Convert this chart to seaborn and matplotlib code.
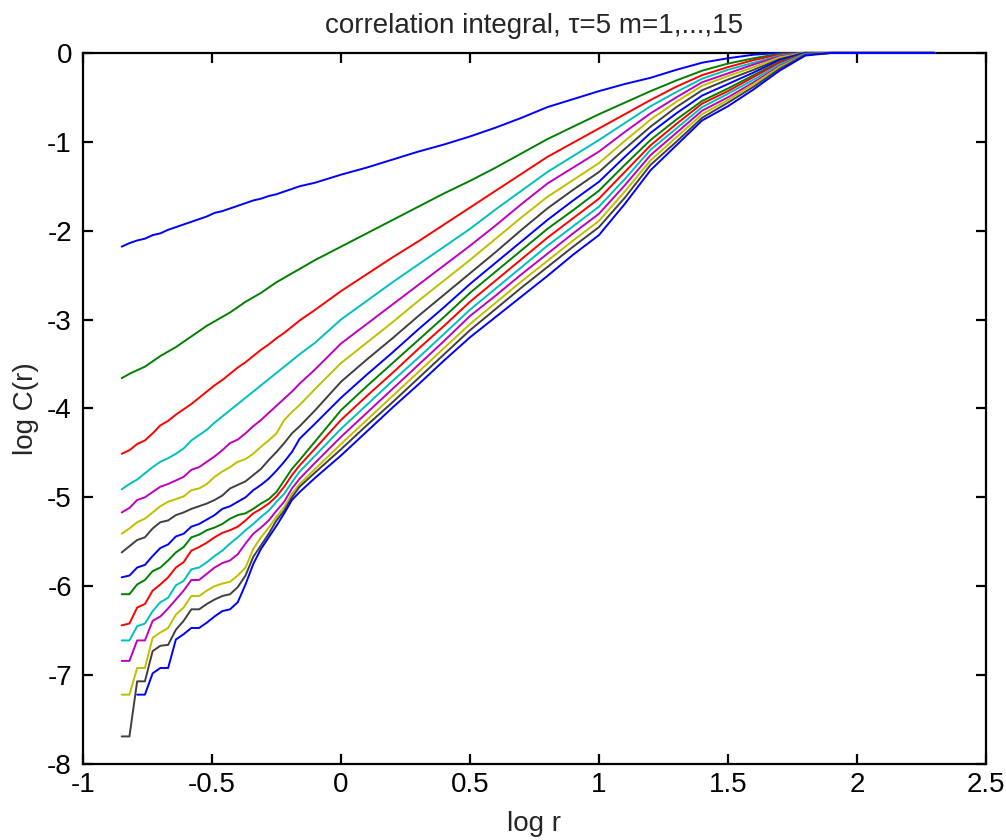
import numpy as np
import pandas as pd
import matplotlib
matplotlib.use("Agg")
import matplotlib.pyplot as plt
import seaborn as sns

nan = np.nan

# x grid (log r)
log_r = [-0.85, -0.82, -0.79, -0.76, -0.73, -0.70, -0.67, -0.64, -0.61, -0.58, -0.55, -0.52,
         -0.49, -0.46, -0.43, -0.40, -0.37, -0.34, -0.31, -0.28, -0.25, -0.22, -0.19, -0.16,
         -0.10, 0.0, 0.1, 0.2, 0.3, 0.4, 0.5, 0.6, 0.7, 0.8, 0.9, 1.0, 1.1, 1.2, 1.3, 1.4,
         1.5, 1.6, 1.7, 1.8, 1.9, 2.3]

# log C(r) for embedding dimension m = 1..15
m1 = [-2.18, -2.14, -2.11, -2.09, -2.05, -2.03, -1.99, -1.96, -1.93, -1.90, -1.87, -1.84,
      -1.80, -1.78, -1.75, -1.72, -1.69, -1.66, -1.64, -1.61, -1.59, -1.56, -1.53, -1.50,
      -1.46, -1.37, -1.29, -1.20, -1.11, -1.03, -0.94, -0.84, -0.73, -0.61, -0.52, -0.43,
      -0.35, -0.28, -0.19, -0.11, -0.06, -0.02, 0, 0, 0, 0]
m2 = [-3.66, -3.61, -3.57, -3.53, -3.47, -3.41, -3.36, -3.31, -3.25, -3.19, -3.13, -3.07,
      -3.02, -2.97, -2.92, -2.86, -2.80, -2.75, -2.70, -2.64, -2.58, -2.53, -2.48, -2.43,
      -2.33, -2.18, -2.03, -1.88, -1.73, -1.58, -1.44, -1.29, -1.13, -0.97, -0.83, -0.69,
      -0.56, -0.43, -0.31, -0.20, -0.12, -0.06, -0.01, 0, 0, 0]
m3 = [-4.51, -4.47, -4.40, -4.36, -4.28, -4.19, -4.14, -4.07, -4.01, -3.95, -3.88, -3.81,
      -3.74, -3.68, -3.61, -3.54, -3.48, -3.41, -3.34, -3.28, -3.21, -3.15, -3.08, -3.01,
      -2.89, -2.68, -2.49, -2.30, -2.12, -1.93, -1.74, -1.55, -1.36, -1.17, -1.01, -0.85,
      -0.69, -0.53, -0.38, -0.25, -0.16, -0.08, -0.02, 0, 0, 0]
m4 = [-4.91, -4.85, -4.80, -4.73, -4.66, -4.60, -4.56, -4.51, -4.45, -4.36, -4.30, -4.24,
      -4.16, -4.09, -4.02, -3.95, -3.88, -3.81, -3.74, -3.67, -3.60, -3.53, -3.46, -3.39,
      -3.26, -3.00, -2.79, -2.58, -2.38, -2.18, -1.98, -1.76, -1.55, -1.34, -1.16, -0.98,
      -0.79, -0.60, -0.44, -0.29, -0.19, -0.11, -0.03, 0, 0, 0]
m5 = [-5.17, -5.12, -5.03, -5.00, -4.94, -4.88, -4.85, -4.81, -4.77, -4.69, -4.66, -4.60,
      -4.54, -4.47, -4.39, -4.35, -4.28, -4.20, -4.13, -4.05, -3.97, -3.89, -3.81, -3.72,
      -3.56, -3.27, -3.05, -2.83, -2.61, -2.39, -2.17, -1.94, -1.70, -1.47, -1.29, -1.11,
      -0.89, -0.68, -0.50, -0.33, -0.23, -0.13, -0.04, 0, 0, 0]
m6 = [-5.41, -5.35, -5.28, -5.24, -5.17, -5.10, -5.05, -5.02, -4.99, -4.92, -4.90, -4.85,
      -4.77, -4.71, -4.66, -4.60, -4.57, -4.51, -4.43, -4.36, -4.28, -4.13, -4.04, -3.96,
      -3.78, -3.49, -3.26, -3.03, -2.79, -2.56, -2.33, -2.09, -1.85, -1.62, -1.43, -1.24,
      -0.99, -0.75, -0.55, -0.37, -0.26, -0.16, -0.05, 0, 0, 0]
m7 = [-5.62, -5.55, -5.48, -5.45, -5.35, -5.28, -5.26, -5.20, -5.17, -5.13, -5.10, -5.07,
      -5.03, -4.98, -4.90, -4.86, -4.82, -4.75, -4.68, -4.58, -4.49, -4.39, -4.28, -4.20,
      -4.02, -3.70, -3.45, -3.21, -2.96, -2.72, -2.48, -2.24, -1.99, -1.75, -1.54, -1.34,
      -1.08, -0.83, -0.61, -0.42, -0.30, -0.19, -0.07, 0, 0, 0]
m8 = [-5.90, -5.88, -5.79, -5.76, -5.66, -5.57, -5.53, -5.44, -5.41, -5.33, -5.30, -5.25,
      -5.20, -5.13, -5.10, -5.05, -5.00, -4.92, -4.86, -4.79, -4.70, -4.60, -4.49, -4.34,
      -4.17, -3.88, -3.62, -3.37, -3.11, -2.86, -2.60, -2.36, -2.12, -1.88, -1.66, -1.45,
      -1.17, -0.90, -0.68, -0.48, -0.35, -0.22, -0.08, 0, 0, 0]
m9 = [-6.09, -6.09, -5.98, -5.93, -5.83, -5.79, -5.71, -5.62, -5.56, -5.45, -5.42, -5.37,
      -5.34, -5.30, -5.24, -5.20, -5.18, -5.13, -5.07, -5.02, -4.94, -4.81, -4.68, -4.58,
      -4.37, -4.02, -3.75, -3.49, -3.23, -2.97, -2.70, -2.46, -2.22, -1.98, -1.77, -1.55,
      -1.26, -0.98, -0.75, -0.54, -0.40, -0.25, -0.10, -0.01, 0, 0]
m10 = [-6.44, -6.42, -6.24, -6.20, -6.05, -5.98, -5.90, -5.79, -5.73, -5.60, -5.56, -5.51,
       -5.45, -5.40, -5.37, -5.33, -5.26, -5.18, -5.13, -5.07, -4.99, -4.88, -4.75, -4.64,
       -4.45, -4.13, -3.86, -3.60, -3.33, -3.07, -2.80, -2.56, -2.32, -2.08, -1.86, -1.64,
       -1.34, -1.04, -0.80, -0.57, -0.43, -0.27, -0.11, -0.01, 0, 0]
m11 = [-6.61, -6.61, -6.45, -6.42, -6.28, -6.18, -6.13, -5.99, -5.94, -5.81, -5.79, -5.73,
       -5.66, -5.60, -5.52, -5.45, -5.37, -5.30, -5.22, -5.15, -5.05, -4.96, -4.83, -4.71,
       -4.53, -4.23, -3.96, -3.69, -3.43, -3.16, -2.89, -2.65, -2.41, -2.17, -1.95, -1.73,
       -1.42, -1.09, -0.85, -0.61, -0.46, -0.30, -0.13, -0.01, 0, 0]
m12 = [-6.84, -6.84, -6.61, -6.61, -6.39, -6.34, -6.25, -6.15, -6.05, -5.93, -5.93, -5.86,
       -5.79, -5.74, -5.71, -5.64, -5.52, -5.41, -5.34, -5.26, -5.15, -5.05, -4.90, -4.79,
       -4.61, -4.32, -4.05, -3.78, -3.51, -3.24, -2.96, -2.73, -2.49, -2.26, -2.03, -1.81,
       -1.49, -1.15, -0.90, -0.65, -0.50, -0.33, -0.15, -0.02, 0, 0]
m13 = [-7.22, -7.22, -6.92, -6.92, -6.58, -6.52, -6.47, -6.32, -6.24, -6.11, -6.11, -6.05,
       -6.00, -5.97, -5.95, -5.88, -5.79, -5.58, -5.45, -5.34, -5.22, -5.11, -4.96, -4.85,
       -4.68, -4.40, -4.13, -3.86, -3.59, -3.32, -3.05, -2.81, -2.57, -2.34, -2.11, -1.89,
       -1.56, -1.21, -0.95, -0.69, -0.53, -0.35, -0.16, -0.02, 0, 0]
m14 = [-7.69, -7.69, -7.07, -7.07, -6.73, -6.67, -6.66, -6.49, -6.39, -6.26, -6.26, -6.20,
       -6.15, -6.11, -6.09, -6.01, -5.88, -5.67, -5.54, -5.41, -5.26, -5.15, -5.00, -4.88,
       -4.72, -4.46, -4.19, -3.93, -3.66, -3.39, -3.12, -2.88, -2.64, -2.41, -2.18, -1.96,
       -1.63, -1.26, -1.00, -0.73, -0.56, -0.38, -0.18, -0.02, 0, 0]
m15 = [nan, nan, -7.22, -7.22, -6.98, -6.92, -6.92, -6.60, -6.54, -6.47, -6.47, -6.41,
       -6.34, -6.28, -6.26, -6.18, -5.98, -5.75, -5.58, -5.45, -5.32, -5.18, -5.03, -4.94,
       -4.78, -4.53, -4.26, -3.99, -3.73, -3.46, -3.20, -2.97, -2.74, -2.51, -2.27, -2.05,
       -1.70, -1.32, -1.04, -0.76, -0.60, -0.41, -0.20, -0.03, 0, 0]

series = [m1, m2, m3, m4, m5, m6, m7, m8, m9, m10, m11, m12, m13, m14, m15]

# MATLAB classic color order
color_order = [(0, 0, 1), (0, 0.5, 0), (1, 0, 0), (0, 0.75, 0.75),
               (0.75, 0, 0.75), (0.75, 0.75, 0), (0.25, 0.25, 0.25)]
palette = [color_order[i % 7] for i in range(len(series))]

rows = []
for k, ys in enumerate(series, start=1):
    for xv, yv in zip(log_r, ys):
        rows.append({"log r": xv, "log C(r)": yv, "m": k})
df = pd.DataFrame(rows).dropna()

sns.set_style("ticks")
plt.rcParams["font.family"] = ["Liberation Sans", "DejaVu Sans"]

fig = plt.figure(figsize=(10.06, 8.40), dpi=100)
ax = fig.add_axes([0.0825, 0.0905, 0.8975, 0.8465])

sns.lineplot(data=df, x="log r", y="log C(r)", hue="m", palette=palette,
             legend=False, linewidth=1.4, estimator=None, sort=False, ax=ax)
for ln in ax.lines:
    ln.set_zorder(3)
    ln.set_clip_on(False)

ax.set_xlim(-1, 2.5)
ax.set_ylim(-8, 0)
ax.set_xticks([-1, -0.5, 0, 0.5, 1, 1.5, 2, 2.5])
ax.set_xticklabels(["-1", "-0.5", "0", "0.5", "1", "1.5", "2", "2.5"])
ax.set_yticks([-8, -7, -6, -5, -4, -3, -2, -1, 0])
ax.set_yticklabels(["-8", "-7", "-6", "-5", "-4", "-3", "-2", "-1", "0"])
ax.tick_params(direction="in", top=True, right=True, length=7, width=1.6,
               labelsize=20, colors="black")
ax.tick_params(axis="x", pad=6)
ax.tick_params(axis="y", pad=8)
for s in ax.spines.values():
    s.set_visible(True)
    s.set_linewidth(1.6)
    s.set_color("black")

ax.set_xlabel("log r", fontsize=20, labelpad=9)
ax.set_ylabel("log C(r)", fontsize=20, labelpad=6)
ax.set_title("correlation integral, \u03c4=5 m=1,...,15", fontsize=20, pad=14)

fig.savefig("out.png", dpi=100, facecolor="white")
